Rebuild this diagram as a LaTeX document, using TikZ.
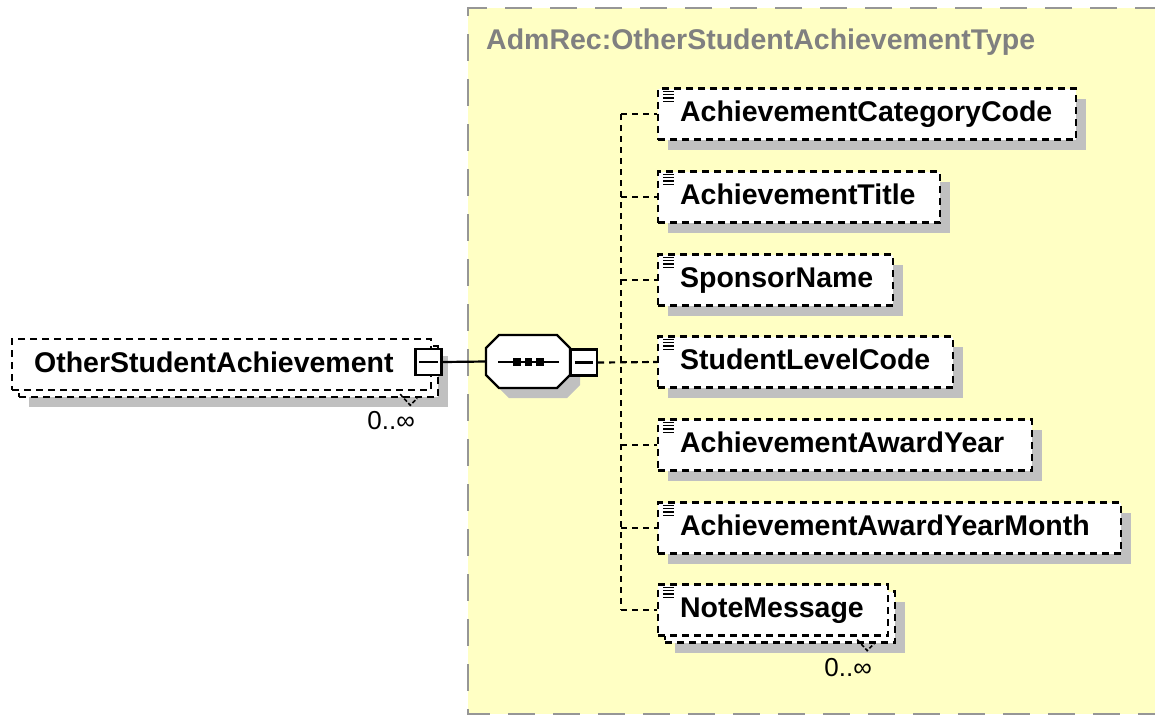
\documentclass[tikz,border=0pt]{standalone}
\usepackage{fontspec}
\setmainfont{Liberation Sans}
\usetikzlibrary{shadows}
\definecolor{bgyellow}{RGB}{255,255,196}
\definecolor{shadowgray}{RGB}{192,192,192}
\definecolor{bordergray}{RGB}{150,150,150}
\definecolor{titlegray}{RGB}{128,128,128}
\newcommand\simpleicon[1]{%
  \foreach \k in {0,1,2,3}{\draw[line width=1.4pt] ([shift={(6,4+3.3*\k)}]#1.north west) -- ++(11,0);}}
\newcommand\repmark[1]{%
  \draw[line width=1.6pt, dash pattern=on 4pt off 2pt] ([shift={(-39,-4)}]#1.south east) -- ([shift={(-29,7)}]#1.south east) -- ([shift={(-22,0)}]#1.south east);}
\begin{document}
\begin{tikzpicture}[x=1pt,y=-1pt,
  conn/.style={line width=2.2pt, dash pattern=on 6pt off 5pt},
  shd/.style={drop shadow={shadow xshift=10pt, shadow yshift=-10pt, opacity=1, fill=shadowgray}},
  elbox/.style={draw, line width=2.2pt, dash pattern=on 7pt off 5pt, fill=white,
    minimum height=51pt, inner xsep=22pt, inner ysep=0pt, align=left,
    text height=21pt, text depth=6pt,
    font=\fontsize{28.5}{32}\selectfont\bfseries},
  minusbox/.style={draw, line width=2.2pt, fill=white, minimum size=26pt, inner sep=0pt},
  mult/.style={anchor=east, inner sep=0pt, font=\fontsize{26}{30}\selectfont}
]
\useasboundingbox (0,0) rectangle (1155,716);
% complex type area
\fill[bgyellow] (468,8) rectangle (1162,714);
\draw[bordergray, line width=2.4pt, dash pattern=on 27pt off 18pt] (1162,8) -- (468,8) -- (468,714) -- (1162,714);
\node[anchor=west, inner sep=0pt, text=titlegray, font=\fontsize{28.5}{32}\selectfont\bfseries] (title) at (486,42) {AdmRec:OtherStudentAchievementType};

% root element (repeating)
\node[elbox, shd, text width=375pt, anchor=north west] (rootback) at (18,345) {\phantom{x}};
\node[elbox, text width=375pt, anchor=north west] (root) at (11,338) {\mbox{OtherStudentAchievement}};
\node[minusbox] (rootminus) at (428.5,362) {};
\draw[line width=2.2pt] ([xshift=5pt]rootminus.west) -- ([xshift=-5pt]rootminus.east);
\repmark{rootback}
\node[mult] (rootmult) at (415,421) {0..∞};

% sequence compositor
\node[minimum width=84pt, minimum height=53pt, inner sep=0pt] (seq) at (528,361.5) {};
\fill[shadowgray] (509,345)--(567,345)--(580,358)--(580,385)--(567,398)--(509,398)--(496,385)--(496,358)--cycle;
\draw[line width=2.2pt, fill=white] (499,335)--(557,335)--(570,348)--(570,375)--(557,388)--(499,388)--(486,375)--(486,348)--cycle;
\draw[line width=2.2pt] (498,362) -- (559,362);
\foreach \dx in {517,528.5,540}{\fill (\dx,362) +(-3.8,-3.8) rectangle +(3.8,3.8);}
\node[minusbox] (seqminus) at (584,362.5) {};
\draw[line width=2.2pt] ([xshift=5pt]seqminus.west) -- ([xshift=-5pt]seqminus.east);

% children
\node[elbox, shd, text width=374pt, anchor=west] (c1) at (657,114) {\mbox{AchievementCategoryCode}};
\node[elbox, shd, text width=238pt, anchor=west] (c2) at (657,197) {\mbox{AchievementTitle}};
\node[elbox, shd, text width=191pt, anchor=west] (c3) at (657,280) {\mbox{SponsorName}};
\node[elbox, shd, text width=251pt, anchor=west] (c4) at (657,362) {\mbox{StudentLevelCode}};
\node[elbox, shd, text width=330pt, anchor=west] (c5) at (657,445) {\mbox{AchievementAwardYear}};
\node[elbox, shd, text width=419pt, anchor=west] (c6) at (657,528) {\mbox{AchievementAwardYearMonth}};
\node[elbox, shd, text width=186pt, anchor=west] (c7back) at (664,617) {\phantom{x}};
\node[elbox, text width=186pt, anchor=west] (c7) at (657,610) {\mbox{NoteMessage}};
\repmark{c7back}
\node[mult] (c7mult) at (872,668) {0..∞};
\foreach \n in {c1,c2,c3,c4,c5,c6,c7}{\simpleicon{\n}}

% connectors
\coordinate (spine) at (621,0);
\draw[line width=2.2pt] (rootminus.east) -- (seq.west);
\draw[conn] (seqminus.east) -- (c4.west);
\draw[conn] (spine |- c1.west) -- (spine |- c7.west);
\foreach \n in {c1,c2,c3,c4,c5,c6,c7}{\draw[conn] (spine |- \n.west) -- (\n.west);}
\end{tikzpicture}
\end{document}
